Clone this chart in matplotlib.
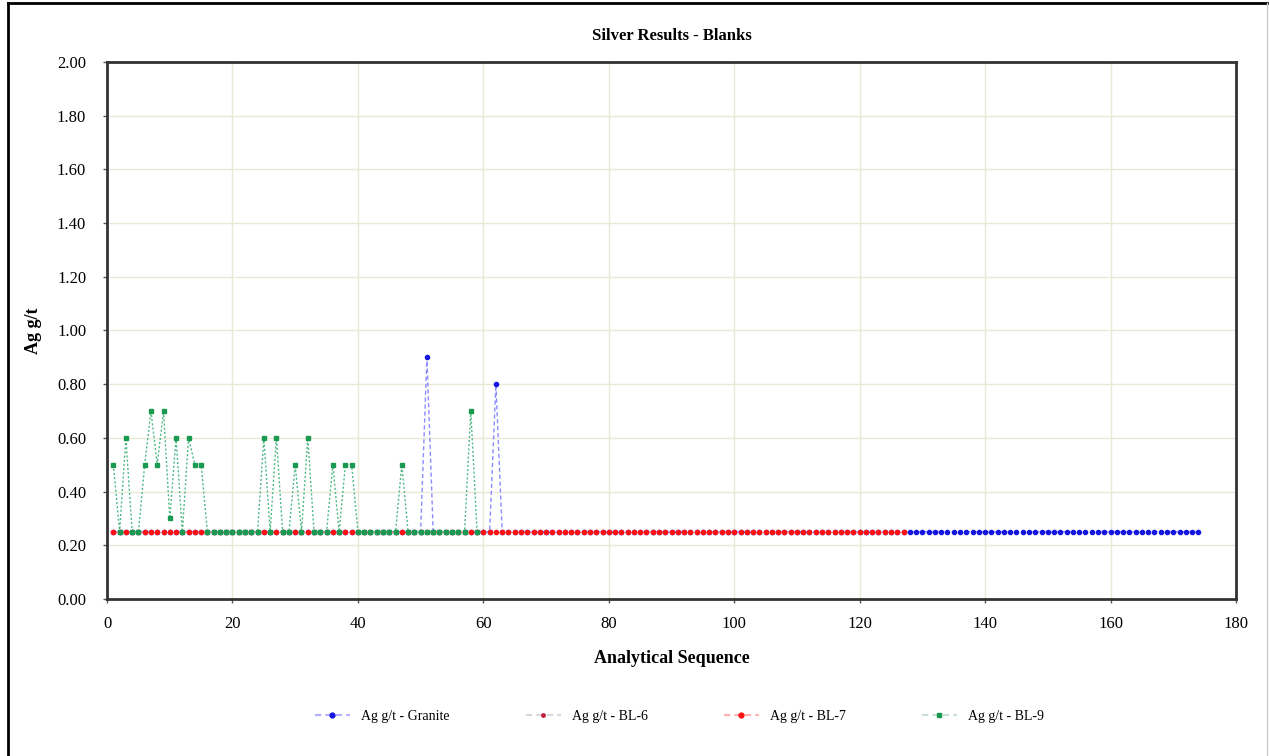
import numpy as np
import matplotlib
matplotlib.use('Agg')
import matplotlib.pyplot as plt
from matplotlib.lines import Line2D

# Données
seq = np.arange(1, 175)

# Granite : toute la séquence à 0.25 sauf deux pics
granite = np.full(174, 0.25)
granite_pics = {51: 0.90, 62: 0.80}

# BL-7 : positions 1..127 à 0.25
bl7_pos = np.arange(1, 128)
bl7 = np.full(len(bl7_pos), 0.25)

# BL-9 : positions 1..59
bl9_pos = np.arange(1, 60)
bl9 = np.array([
    0.50, 0.25, 0.60, 0.25, 0.25, 0.50, 0.70, 0.50, 0.70, 0.30,
    0.60, 0.25, 0.60, 0.50, 0.50, 0.25, 0.25, 0.25, 0.25, 0.25,
    0.25, 0.25, 0.25, 0.25, 0.60, 0.25, 0.60, 0.25, 0.25, 0.50,
    0.25, 0.60, 0.25, 0.25, 0.25, 0.50, 0.25, 0.50, 0.50, 0.25,
    0.25, 0.25, 0.25, 0.25, 0.25, 0.25, 0.50, 0.25, 0.25, 0.25,
    0.25, 0.25, 0.25, 0.25, 0.25, 0.25, 0.25, 0.70, 0.25,
])

for k, v in granite_pics.items():
    granite[k - 1] = v

plt.rcParams['font.family'] = ['Liberation Serif', 'DejaVu Serif']

fig = plt.figure(figsize=(12.7, 7.56), dpi=100)
ax = fig.add_axes([0.0843, 0.2077, 0.8889, 0.7103])

ax.plot(seq, granite, linestyle=(0, (3, 2)), color='#8c8cff', linewidth=1.0,
        marker='o', markersize=3.0, markerfacecolor='#1515e0', markeredgecolor='#1515e0', zorder=3)
ax.plot(bl7_pos, bl7, linestyle=(0, (3, 2)), color='#ff9a9a', linewidth=1.0,
        marker='o', markersize=3.0, markerfacecolor='#ff1010', markeredgecolor='#ff1010', zorder=4)
ax.plot(bl9_pos, bl9, linestyle=(0, (1.5, 1.5)), color='#50b888', linewidth=1.0,
        marker='s', markersize=3.2, markerfacecolor='#1a9a50', markeredgecolor='#1a9a50', zorder=5)

ax.set_xlim(0, 180)
ax.set_ylim(0, 2.0)
ax.set_xticks(np.arange(0, 181, 20))
ax.set_yticks(np.arange(0, 2.01, 0.2))
ax.set_yticklabels(['%.2f' % v for v in np.arange(0, 2.01, 0.2)])
ax.tick_params(labelsize=12, length=3, width=1, color='#555555')
ax.tick_params(axis='x', pad=9)
ax.tick_params(axis='y', pad=12)
ax.grid(True, color='#e9e9d6', linewidth=1.0)
ax.set_axisbelow(True)
for s in ax.spines.values():
    s.set_linewidth(2.0)
    s.set_color('#333333')

ax.set_title('Silver Results - Blanks', fontsize=12, fontweight='bold', pad=16)
ax.set_xlabel('Analytical Sequence', fontsize=13, fontweight='bold', labelpad=13)
ax.set_ylabel('Ag g/t', fontsize=13, fontweight='bold', labelpad=11)

handles = [
    Line2D([], [], linestyle=(0, (3, 2)), color='#b0b0ff', marker='o', markersize=3.5,
           markerfacecolor='#1515e0', markeredgecolor='#1515e0'),
    Line2D([], [], linestyle=(0, (3, 2)), color='#d8d8d8', marker='o', markersize=2.5,
           markerfacecolor='#c02040', markeredgecolor='#c02040'),
    Line2D([], [], linestyle=(0, (3, 2)), color='#ffb0b0', marker='o', markersize=3.5,
           markerfacecolor='#ff1010', markeredgecolor='#ff1010'),
    Line2D([], [], linestyle=(0, (3, 2)), color='#c8e0d0', marker='s', markersize=3.5,
           markerfacecolor='#1a9a50', markeredgecolor='#1a9a50'),
]
labels = ['Ag g/t - Granite', 'Ag g/t - BL-6', 'Ag g/t - BL-7', 'Ag g/t - BL-9']
fig.legend(handles, labels, loc='center', bbox_to_anchor=(0.535, 0.052), ncol=4,
           frameon=False, fontsize=10, handlelength=2.5, columnspacing=5.5)

# Cadre extérieur
fig.add_artist(Line2D([0.0063, 0.0063], [0.0, 0.996], transform=fig.transFigure, color='black', linewidth=2))
fig.add_artist(Line2D([0.0063, 0.998], [0.996, 0.996], transform=fig.transFigure, color='black', linewidth=2))
fig.add_artist(Line2D([0.998, 0.998], [0.0, 0.996], transform=fig.transFigure, color='#cccccc', linewidth=1))

fig.savefig('out.png', dpi=100)
